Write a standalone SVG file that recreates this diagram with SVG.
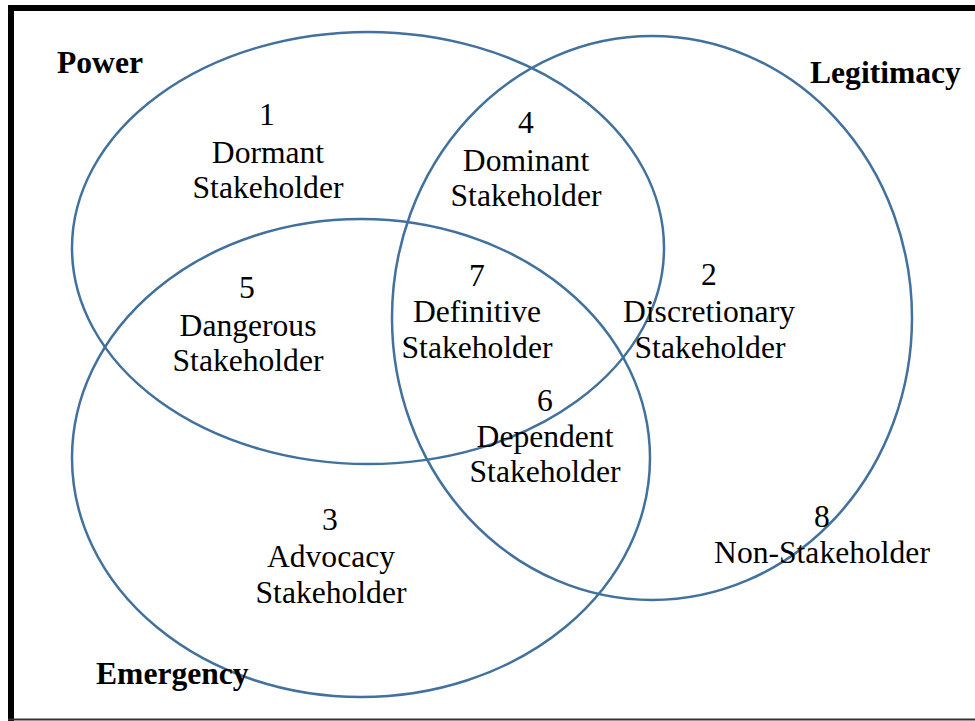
<svg xmlns="http://www.w3.org/2000/svg" width="975" height="721" viewBox="0 0 975 721">
  <style>
    .ring { fill: none; stroke: #41719C; stroke-width: 2.5; }
    .lbl { font-family: "Liberation Serif", "Times New Roman", serif; font-size: 31.6px; fill: #000; text-anchor: middle; }
    .title { font-family: "Liberation Serif", "Times New Roman", serif; font-size: 31.6px; font-weight: bold; fill: #000; }
  </style>
  <rect x="0" y="0" width="975" height="721" fill="#fff"/>
  <!-- frame -->
  <g id="frame">
    <line x1="11" y1="8" x2="975" y2="8" stroke="#000" stroke-width="6"/>
    <line x1="11" y1="5" x2="11" y2="721" stroke="#000" stroke-width="6"/>
    <line x1="8" y1="719.5" x2="975" y2="719.5" stroke="#333" stroke-width="2"/>
  </g>
  <!-- the three attribute sets -->
  <g id="sets">
    <ellipse id="power" class="ring" cx="368" cy="248" rx="296" ry="216"/>
    <ellipse id="legitimacy" class="ring" cx="652" cy="318" rx="260" ry="282"/>
    <ellipse id="urgency" class="ring" cx="361" cy="458" rx="289" ry="239"/>
  </g>
  <!-- set titles -->
  <g id="titles">
    <text class="title" x="57" y="73">Power</text>
    <text class="title" x="810" y="83">Legitimacy</text>
    <text class="title" x="96" y="684">Emergency</text>
  </g>
  <!-- region labels -->
  <g id="r1" class="lbl">
    <text x="267" y="125">1</text>
    <text x="268" y="163">Dormant</text>
    <text x="268" y="198">Stakeholder</text>
  </g>
  <g id="r4" class="lbl">
    <text x="526" y="133">4</text>
    <text x="526" y="171">Dominant</text>
    <text x="526" y="206">Stakeholder</text>
  </g>
  <g id="r5" class="lbl">
    <text x="247" y="298">5</text>
    <text x="248" y="336">Dangerous</text>
    <text x="248" y="371">Stakeholder</text>
  </g>
  <g id="r7" class="lbl">
    <text x="477" y="286">7</text>
    <text x="477" y="322">Definitive</text>
    <text x="477" y="358">Stakeholder</text>
  </g>
  <g id="r2" class="lbl">
    <text x="709" y="285">2</text>
    <text x="709" y="322">Discretionary</text>
    <text x="710" y="358">Stakeholder</text>
  </g>
  <g id="r6" class="lbl">
    <text x="545" y="411">6</text>
    <text x="545" y="447">Dependent</text>
    <text x="545" y="482">Stakeholder</text>
  </g>
  <g id="r3" class="lbl">
    <text x="330" y="530">3</text>
    <text x="331" y="567">Advocacy</text>
    <text x="331" y="603">Stakeholder</text>
  </g>
  <g id="r8" class="lbl">
    <text x="822" y="527">8</text>
    <text x="822" y="563">Non-Stakeholder</text>
  </g>
</svg>
